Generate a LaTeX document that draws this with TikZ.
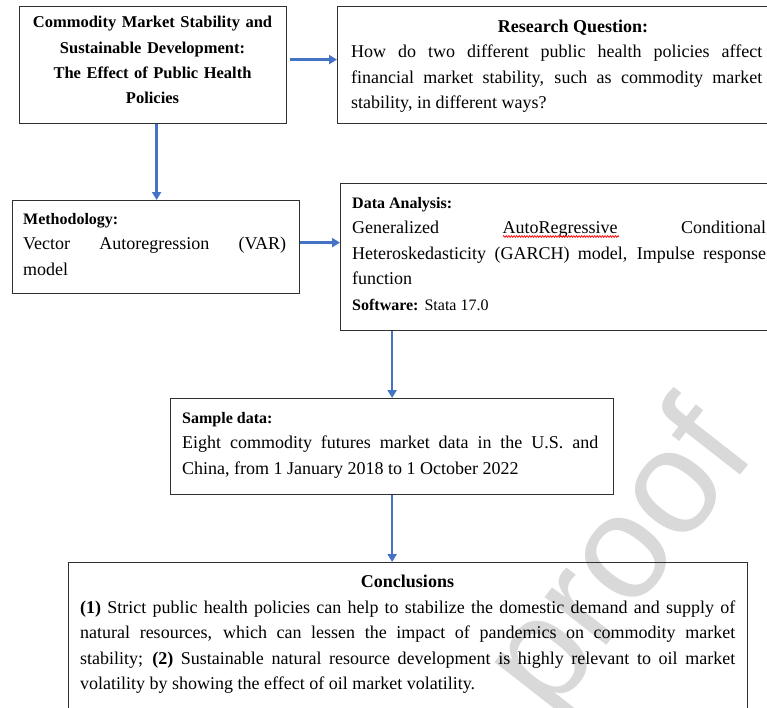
\documentclass[tikz,border=0pt]{standalone}
\usepackage{fontspec}
\setmainfont{Liberation Serif}
\newfontfamily\wmfont{Liberation Sans}
\usetikzlibrary{arrows.meta,decorations.pathmorphing}
\definecolor{arrowblue}{HTML}{4472C4}
\definecolor{boxline}{HTML}{303030}
\definecolor{wmgray}{HTML}{D9D9D9}
\tolerance=10000
\hbadness=10000
\newcommand\body{\fontsize{18bp}{25.5bp}\selectfont}
\newcommand\lab{\fontsize{16bp}{25.5bp}\selectfont\bfseries}
\tikzset{
  boxnode/.style={draw=boxline, line width=1.2bp, inner sep=0pt, anchor=north west},
  txt/.style={inner sep=0pt, anchor=base west, align=justify, font=\body},
  flow/.style={draw=arrowblue, line width=2.5bp, -{Triangle[length=8bp,width=9bp]}}
}
\begin{document}
\begin{tikzpicture}[x=1bp,y=-1bp]
\useasboundingbox (0,0) rectangle (767,708);
\clip (0,0) rectangle (767,708);
% watermark
\node[rotate=52, text=wmgray, inner sep=0pt, font=\fontsize{148bp}{148bp}\selectfont\wmfont] (wm) at (624,562) {proof};
% boxes
\node[boxnode, minimum width=267bp, minimum height=117bp] (b1) at (19,6) {};
\node[boxnode, minimum width=460bp, minimum height=117bp] (b2) at (337,6) {};
\node[boxnode, minimum width=287bp, minimum height=93bp] (b3) at (12,200) {};
\node[boxnode, minimum width=450bp, minimum height=147bp] (b4) at (340,183) {};
\node[boxnode, minimum width=443bp, minimum height=96bp] (b5) at (170,398) {};
\node[boxnode, minimum width=679bp, minimum height=170bp] (b6) at (68,562) {};
% texts
\node[inner sep=0pt, anchor=base, text width=262bp, align=center,
  font=\fontsize{16.5bp}{25.3bp}\selectfont\bfseries] (t1) at (152.5,28)
  {Commodity Market Stability and\\Sustainable Development:\\The Effect of Public Health\\Policies};
\node[inner sep=0pt, anchor=base, font=\fontsize{18bp}{25bp}\selectfont\bfseries] (t2h) at (573,33) {Research Question:};
\node[txt, text width=411bp] (t2) at (351,58) {How do two different public health policies affect\linebreak
  financial market stability, such as commodity market\linebreak
  stability, in different ways?};
\node[txt, text width=263bp] (t3) at (23,224) {{\lab Methodology:}\par
  Vector Autoregression (VAR)\linebreak
  model};
\node[txt, text width=414bp] (t4) at (352,208) {{\lab Data Analysis:}\par
  Generalized AutoRegressive Conditional\linebreak
  Heteroskedasticity (GARCH) model, Impulse response\linebreak
  function\par
  {\lab Software:} {\fontsize{16bp}{25.5bp}\selectfont Stata 17.0}};
\node[txt, text width=416bp] (t5) at (182,423) {{\lab Sample data:}\par
  Eight commodity futures market data in the U.S. and\linebreak
  China, from 1 January 2018 to 1 October 2022};
\node[inner sep=0pt, anchor=base, font=\fontsize{18bp}{25bp}\selectfont\bfseries] (t6h) at (407.5,587) {Conclusions};
\node[txt, text width=655bp] (t6) at (80,613) {\textbf{(1)} Strict public health policies can help to stabilize the domestic demand and supply of\linebreak
  natural resources, which can lessen the impact of pandemics on commodity market\linebreak
  stability; \textbf{(2)} Sustainable natural resource development is highly relevant to oil market\linebreak
  volatility by showing the effect of oil market volatility.};
% spell-check squiggle
\draw[red, line width=0.7bp, decorate, decoration={zigzag, amplitude=0.9bp, segment length=2.6bp}] (503,236.5) -- (619,236.5);
% connectors
\draw[flow] ([yshift=5.5bp, xshift=3bp]b1.east) -- ([yshift=5.5bp]b2.west |- b1.east);
\draw[flow] ([xshift=3.5bp]b1.south) -- ([xshift=3.5bp]b1.south |- b3.north);
\draw[flow] ([yshift=4.5bp]b3.east) -- ([yshift=4.5bp]b3.east -| b4.west);
\draw[flow] (b5.north |- b4.south) -- (b5.north);
\draw[flow] (b5.south) -- (b5.south |- b6.north);
\end{tikzpicture}
\end{document}
